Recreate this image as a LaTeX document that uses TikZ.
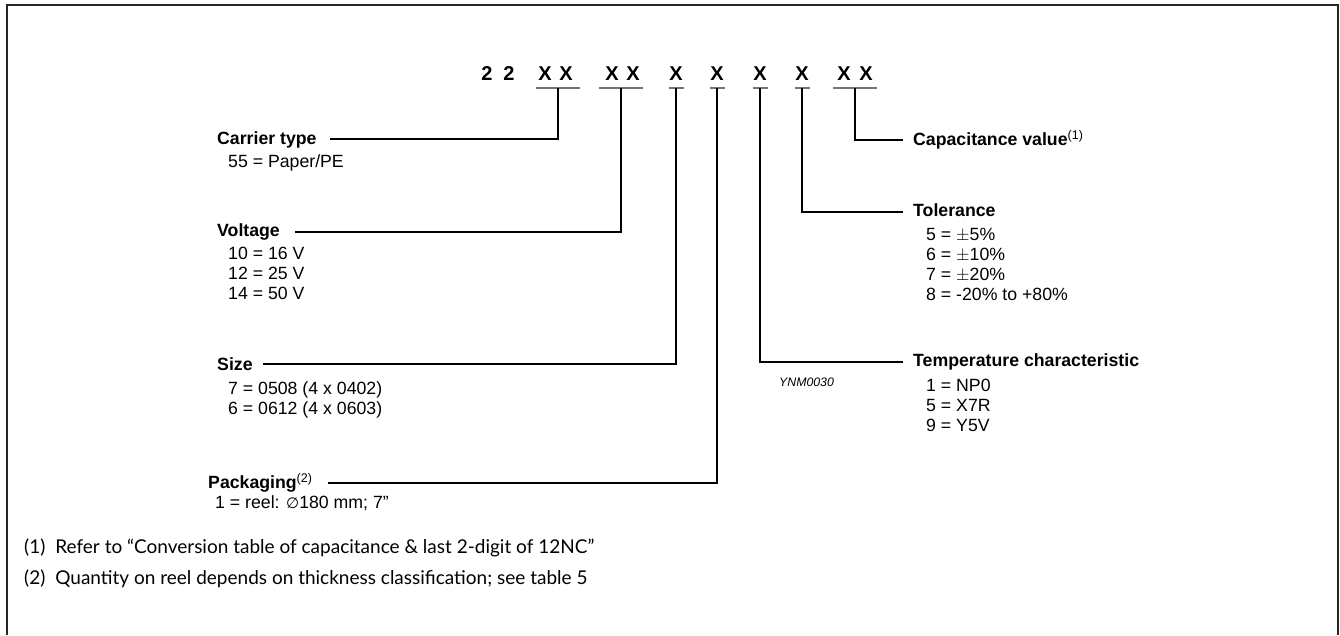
\documentclass[tikz,border=0pt]{standalone}
\usepackage{fontspec}
\setmainfont{Liberation Sans}
\newfontfamily\notefont{Lato}
\newfontfamily\symfont{DejaVu Sans}
\begin{document}
\begin{tikzpicture}[x=1pt,y=-1pt,
  hdr/.style={anchor=base west, inner sep=0pt, font=\fontsize{17.7}{20}\selectfont\bfseries},
  itm/.style={anchor=base west, inner sep=0pt, font=\fontsize{17.7}{20}\selectfont},
  codech/.style={anchor=base, inner sep=0pt, font=\fontsize{20}{22}\selectfont\bfseries},
  uline/.style={draw=black!55, line width=1.5pt},
  conn/.style={draw=black, line width=1.2pt},
  note/.style={anchor=base west, inner sep=0pt, font=\notefont\fontsize{19}{22}\selectfont},
  tag/.style={anchor=base west, inner sep=0pt, font=\fontsize{12.3}{14}\selectfont\itshape}]
\useasboundingbox (0,0) rectangle (1340,635);
% frame
\draw[line width=1.5pt, black!85] (7,635) -- (7,5) -- (1338,5) -- (1338,635);

% code characters
\node[codech] (c1) at (487,80) {2};
\node[codech] (c2) at (509,80) {2};
\node[codech] (c3) at (545,80) {X};
\node[codech] (c4) at (566,80) {X};
\node[codech] (c5) at (612,80) {X};
\node[codech] (c6) at (633,80) {X};
\node[codech] (c7) at (676,80) {X};
\node[codech] (c8) at (717,80) {X};
\node[codech] (c9) at (760,80) {X};
\node[codech] (c10) at (802,80) {X};
\node[codech] (c11) at (844,80) {X};
\node[codech] (c12) at (866,80) {X};

% underline centres
\coordinate (u1) at (558,88);
\coordinate (u2) at (621,88);
\coordinate (u3) at (676,88);
\coordinate (u4) at (717,88);
\coordinate (u5) at (760,88);
\coordinate (u6) at (802,88);
\coordinate (u7) at (855,88);
\draw[uline] ([xshift=-22pt]u1) -- ([xshift=22pt]u1);
\draw[uline] ([xshift=-22pt]u2) -- ([xshift=22pt]u2);
\draw[uline] ([xshift=-7.5pt]u3) -- ([xshift=7.5pt]u3);
\draw[uline] ([xshift=-7.5pt]u4) -- ([xshift=7.5pt]u4);
\draw[uline] ([xshift=-7.5pt]u5) -- ([xshift=7.5pt]u5);
\draw[uline] ([xshift=-7.5pt]u6) -- ([xshift=7.5pt]u6);
\draw[uline] ([xshift=-22pt]u7) -- ([xshift=22pt]u7);

% left labels
\node[hdr] (carrier) at (217,144) {Carrier type};
\node[itm] (carrier1) at (228,167) {55 = Paper/PE};
\node[hdr] (volt) at (217,236) {Voltage};
\node[itm] (volt1) at (228,259) {10 = 16 V};
\node[itm] (volt2) at (228,279) {12 = 25 V};
\node[itm] (volt3) at (228,299) {14 = 50 V};
\node[hdr] (size) at (217,370) {Size};
\node[itm] (size1) at (228,394) {7 = 0508 (4 x 0402)};
\node[itm] (size2) at (228,414) {6 = 0612 (4 x 0603)};
\node[hdr] (pack) at (208,488) {Packaging{\normalfont\fontsize{12.5}{14}\selectfont\raisebox{6pt}{(2)}}};
\node[itm] (pack1) at (215,508) {1 = reel: {\symfont\fontsize{15}{18}\selectfont ∅}180 mm; 7\symbol{34}};

% right labels
\node[hdr] (cap) at (913,145) {Capacitance value{\normalfont\fontsize{12.5}{14}\selectfont\raisebox{6pt}{(1)}}};
\node[hdr] (tol) at (913,216) {Tolerance};
\node[itm] (tol1) at (926,240) {5 = $\pm$5\%};
\node[itm] (tol2) at (926,260) {6 = $\pm$10\%};
\node[itm] (tol3) at (926,280) {7 = $\pm$20\%};
\node[itm] (tol4) at (926,300) {8 = -20\% to +80\%};
\node[hdr] (temp) at (913,366) {Temperature characteristic};
\node[itm] (temp1) at (926,391) {1 = NP0};
\node[itm] (temp2) at (926,411) {5 = X7R};
\node[itm] (temp3) at (926,431) {9 = Y5V};
\node[tag] (ynm) at (779,386) {YNM0030};

% line ends
\coordinate (e1) at (330,139);
\coordinate (e2) at (295,232);
\coordinate (e3) at (263,364);
\coordinate (e4) at (328,483);
\coordinate (e5) at (903,362);
\coordinate (e6) at (903,212);
\coordinate (e7) at (903,140);
\draw[conn] (u1) |- (e1);
\draw[conn] (u2) |- (e2);
\draw[conn] (u3) |- (e3);
\draw[conn] (u4) |- (e4);
\draw[conn] (u5) |- (e5);
\draw[conn] (u6) |- (e6);
\draw[conn] (u7) |- (e7);

% footnotes
\node[note] (fn1) at (24,553) {(1)\hspace{10pt}Refer to “Conversion table of capacitance \& last 2-digit of 12NC”};
\node[note] (fn2) at (24,584) {(2)\hspace{10pt}Quantity on reel depends on thickness classification; see table 5};
\end{tikzpicture}
\end{document}
